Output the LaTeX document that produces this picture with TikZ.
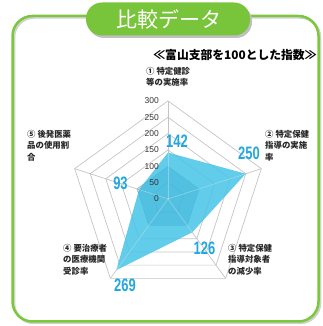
\documentclass[tikz,border=0pt]{standalone}
\usepackage{fontspec}
\setmainfont{Liberation Sans}
\newfontfamily\jp{Noto Sans CJK JP}
\usetikzlibrary{calc}
\definecolor{framegreen}{HTML}{7CC83C}
\definecolor{pillgreen}{HTML}{78C43A}
\definecolor{numblue}{HTML}{22A7DF}
\definecolor{gridgray}{HTML}{C4C4C4}
\definecolor{datafill}{HTML}{47C3E7}
\definecolor{reffill}{HTML}{2AA6CC}
\begin{document}
\begin{tikzpicture}[x=1pt,y=1pt,
 gridline/.style={draw=gridgray, line width=0.7pt},
 axislabel/.style={font=\jp\bfseries\fontsize{8.4}{11.4}\selectfont, align=left, anchor=base west, inner sep=0pt, text=black!85},
 ticklabel/.style={font=\fontsize{8.5}{9}\selectfont, anchor=east, inner sep=0pt, text=black!80},
 bignum/.style={font=\bfseries\fontsize{18}{18}\selectfont, text=numblue, inner sep=0pt},
]
\useasboundingbox (0,0) rectangle (322,326);
% frame with shadow
\draw[line width=2.5pt, black!18, rounded corners=20pt] (14,3) rectangle (320,308.5);
\draw[line width=2.5pt, framegreen, rounded corners=20pt] (12.5,4.5) rectangle (318.5,310);
% title pill
\fill[black!25, rounded corners=16pt] (88,288) rectangle (252,321);
\fill[pillgreen, rounded corners=16pt] (86,290.5) rectangle (250,323.5);
\node[font=\jp\fontsize{21}{21}\selectfont, text=white, inner sep=0pt] (title) at (168.5,307) {比較データ};
\node[font=\jp\bfseries\fontsize{11.8}{12}\selectfont, inner sep=0pt] (subtitle) at (235,271) {≪富山支部を100とした指数≫};
% radar
\begin{scope}[shift={(168,127)}]
\coordinate (O) at (0,0);
\foreach \v in {50,100,...,300}{
  \pgfmathsetmacro{\r}{\v*0.327}
  \draw[gridline] (90:\r) -- (18:\r) -- (-54:\r) -- (-126:\r) -- (162:\r) -- cycle;
}
\foreach \a/\n in {90/a1,18/a2,-54/a3,-126/a4,162/a5}{
  \coordinate (\n) at (\a:98.1);
  \draw[gridline] (O) -- (\n);
}
\coordinate (d1) at (90:46.43);
\coordinate (d2) at (18:81.75);
\coordinate (d3) at (-54:41.2);
\coordinate (d4) at (-126:87.96);
\coordinate (d5) at (162:30.41);
\fill[datafill, fill opacity=0.85] (d1) -- (d2) -- (d3) -- (d4) -- (d5) -- cycle;
\fill[reffill, fill opacity=0.3] (90:32.7) -- (18:32.7) -- (-54:32.7) -- (-126:32.7) -- (162:32.7) -- cycle;
\begin{scope}
\clip (d1) -- (d2) -- (d3) -- (d4) -- (d5) -- cycle;
\foreach \n in {a1,a2,a3,a4,a5}{
  \draw[white, opacity=0.35, line width=0.7pt] (O) -- (\n);
}
\end{scope}
\foreach \v/\n in {0/t0,50/t1,100/t2,150/t3,200/t4,250/t5,300/t6}{
  \node[ticklabel] (\n) at (-9,\v*0.327) {\v};
}
\end{scope}
% big values
\node[bignum] (v1) at (177,184.5) {\scalebox{0.72}[1]{142}};
\node[bignum] (v2) at (249,173) {\scalebox{0.72}[1]{250}};
\node[bignum] (v3) at (204.5,77.5) {\scalebox{0.72}[1]{126}};
\node[bignum] (v4) at (125,40.5) {\scalebox{0.72}[1]{269}};
\node[bignum] (v5) at (120.5,142.5) {\scalebox{0.72}[1]{93}};
% axis labels
\node[axislabel] (l1) at (146,240.3) {① 特定健診\\等の実施率};
\node[axislabel] (l2) at (265,165.8) {② 特定保健\\指導の実施\\率};
\node[axislabel] (l3) at (228,51.8) {③ 特定保健\\指導対象者\\の減少率};
\node[axislabel] (l4) at (63,51.8) {④ 要治療者\\の医療機関\\受診率};
\node[axislabel] (l5) at (27,165.8) {⑤ 後発医薬\\品の使用割\\合};
\end{tikzpicture}
\end{document}
